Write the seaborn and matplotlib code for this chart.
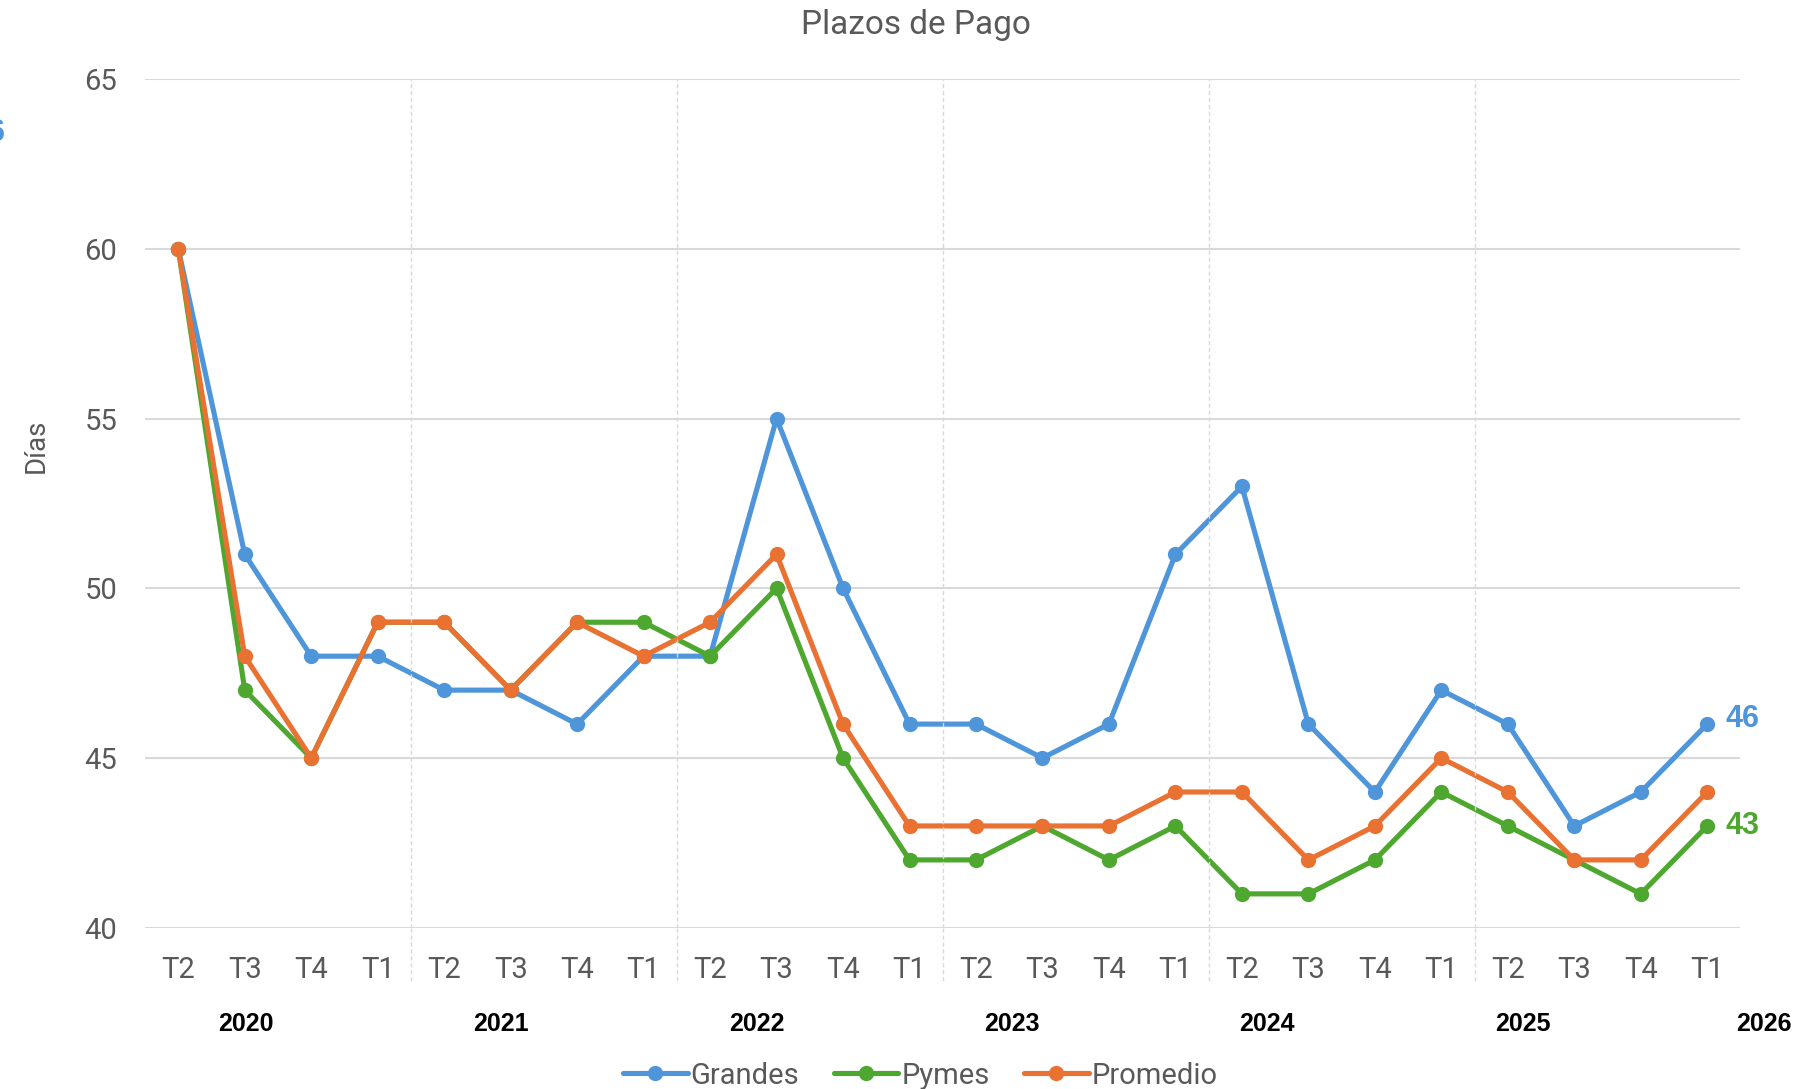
import numpy as np
import pandas as pd
import matplotlib
matplotlib.use('Agg')
import matplotlib.pyplot as plt
import seaborn as sns

# datos
trimestres = ['T2', 'T3', 'T4', 'T1'] * 6
anios = ['2020', '2021', '2022', '2023', '2024', '2025', '2026']
grandes = [60, 51, 48, 48, 47, 47, 46, 48, 48, 55, 50, 46, 46, 45, 46, 51, 53, 46, 44, 47, 46, 43, 44, 46]
pymes = [60, 47, 45, 49, 49, 47, 49, 49, 48, 50, 45, 42, 42, 43, 42, 43, 41, 41, 42, 44, 43, 42, 41, 43]
promedio = [60, 48, 45, 49, 49, 47, 49, 48, 49, 51, 46, 43, 43, 43, 43, 44, 44, 42, 43, 45, 44, 42, 42, 44]
series = ['Grandes', 'Pymes', 'Promedio']
colores = {'Grandes': '#4E95D9', 'Pymes': '#4EA72E', 'Promedio': '#E97132'}

sns.set_theme(style='white')
plt.rcParams['font.family'] = ['Roboto', 'DejaVu Sans']

n = len(trimestres)
df = pd.DataFrame({'idx': list(range(n)) * 3,
                   'valor': grandes + pymes + promedio,
                   'serie': ['Grandes'] * n + ['Pymes'] * n + ['Promedio'] * n})

fig = plt.figure(figsize=(18.13, 10.89), dpi=100)
ax = fig.add_axes([0.080, 0.148, 0.880, 0.7795])

sns.lineplot(data=df, x='idx', y='valor', hue='serie', hue_order=series, palette=colores,
             marker='o', markersize=11, markeredgewidth=0, linewidth=3.7, ax=ax, legend=True)

ax.set_xlim(-0.5, n - 0.5)
ax.set_ylim(40, 65)
ax.set_yticks([40, 45, 50, 55, 60, 65])
ax.yaxis.grid(True, color='#d9d9d9', linewidth=1.5)
ax.set_axisbelow(True)
for s in ax.spines.values():
    s.set_visible(False)
ax.set_xticks(range(n))
ax.set_xticklabels(trimestres)
ax.tick_params(axis='x', labelsize=21, colors='#595959', length=0, pad=20)
ax.tick_params(axis='y', labelsize=21, colors='#595959', length=0, pad=20)
ax.set_xlabel('')
ax.set_ylabel('Días', fontsize=20, color='#595959')
ax.yaxis.set_label_coords(-0.060, 0.568)

# separadores de año
for xs in [3.5, 7.5, 11.5, 15.5, 19.5]:
    ax.plot([xs, xs], [40, 65], color='#d9d9d9', linewidth=1, linestyle=(0, (3, 2)))
    ax.plot([xs, xs], [40, 38.4], color='#d9d9d9', linewidth=1, linestyle=(0, (3, 2)), clip_on=False)

# etiquetas de año (posición como en Excel)
pos_anios = [1.02 + 3.84 * k for k in range(6)] + [23.85]
for xa, a in zip(pos_anios, anios):
    ax.text(xa, 37.18, a, ha='center', va='center', fontsize=18,
            fontweight='bold', color='black', family='Liberation Sans', clip_on=False)

# etiquetas finales
ax.annotate(str(grandes[-1]), (n - 1, grandes[-1]), xytext=(13, 4), textcoords='offset points',
            color=colores['Grandes'], fontsize=22, fontweight='bold', va='center', family='Liberation Sans')
ax.annotate(str(pymes[-1]), (n - 1, pymes[-1]), xytext=(13, 0), textcoords='offset points',
            color=colores['Pymes'], fontsize=22, fontweight='bold', va='center', family='Liberation Sans')
fig.text(5 / 1813, 1 - 133 / 1089, '46', ha='right', va='center', color=colores['Grandes'],
         fontsize=22, fontweight='bold', family='Liberation Sans')

fig.text(0.505, 1 - 25 / 1089, 'Plazos de Pago', ha='center', va='center', fontsize=24, color='#595959')

ax.legend(loc='center', bbox_to_anchor=(0.486, -0.174), ncol=3, frameon=False, fontsize=21,
          handlelength=2.2, handletextpad=0.1, columnspacing=1.2, labelcolor='#595959')

fig.savefig('out.png', dpi=100)
